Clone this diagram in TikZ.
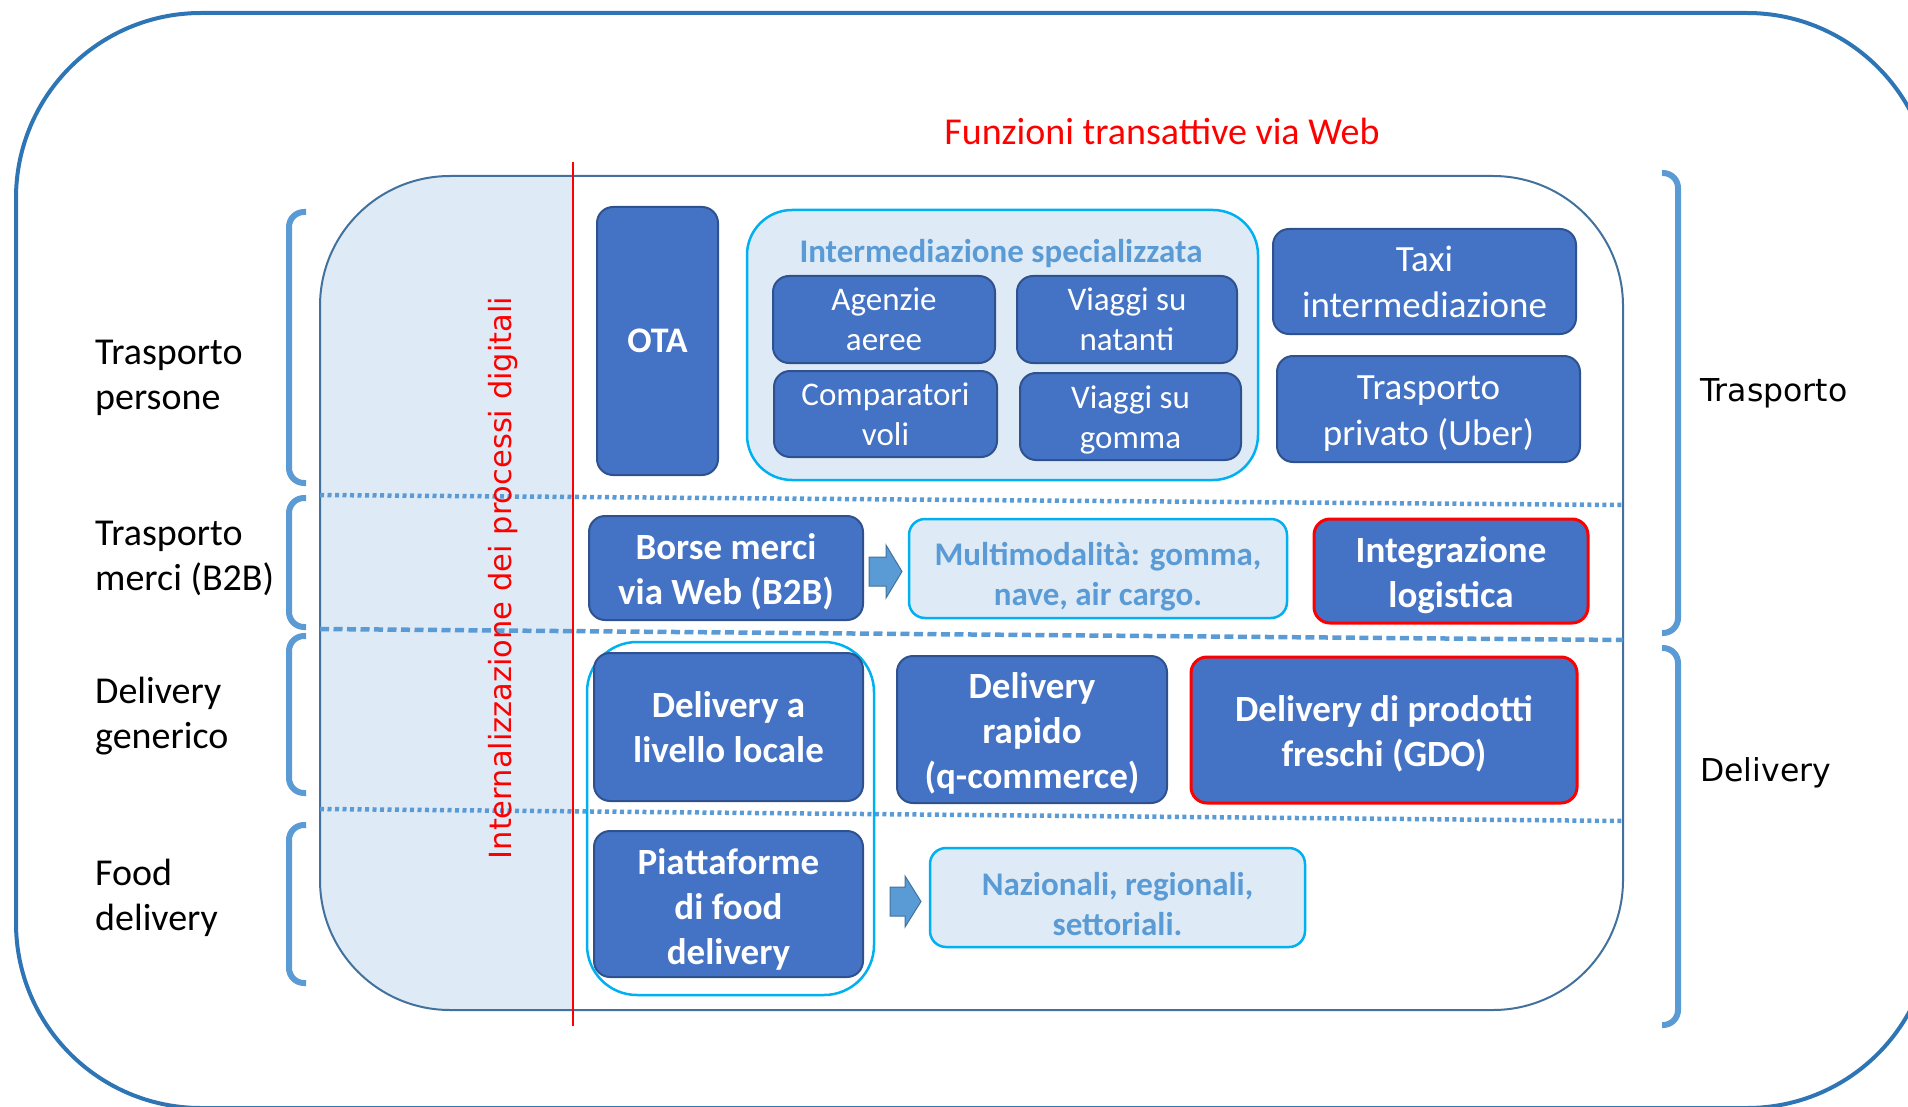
\documentclass[tikz,border=0pt]{standalone}
\usepackage{fontspec}
\setmainfont{Carlito}
\newfontfamily\vfont{DejaVu Sans}
\definecolor{boxblue}{HTML}{4472C4}
\definecolor{boxedge}{HTML}{2F528F}
\definecolor{lightfill}{HTML}{DEEBF7}
\definecolor{cyanedge}{HTML}{00B0F0}
\definecolor{midblue}{HTML}{5B9BD5}
\definecolor{paneledge}{HTML}{41719C}
\definecolor{outeredge}{HTML}{2E75B6}
\definecolor{redline}{HTML}{FF0000}
\tikzset{
  sz/.style 2 args={minimum width=#1pt, minimum height=#2pt},
  darkbox/.style={draw=boxedge, fill=boxblue, line width=2pt, rounded corners=16pt, inner sep=0pt, align=center, text=white},
  redbox/.style={darkbox, draw=redline, line width=3pt},
  lightbox/.style={draw=cyanedge, fill=lightfill, line width=2.5pt, rounded corners=16pt, inner sep=0pt, align=center, text=midblue},
  whitetxt/.style={inner sep=0pt, align=center, text=white},
  bluetxt/.style={inner sep=0pt, align=center, text=midblue},
  bigbold/.style={font=\fontsize{37}{45}\selectfont\bfseries},
  smalltxt/.style={font=\fontsize{33}{40}\selectfont},
  smallbold/.style={font=\fontsize{33}{40}\selectfont\bfseries},
  brk/.style={draw=midblue, line width=6pt, rounded corners=15pt},
  sep/.style={draw=midblue, line width=4.5pt},
  blockarrow/.style={draw=paneledge, fill=midblue, line width=1pt, line join=miter},
  sidelabel/.style={font=\fontsize{38}{45}\selectfont, align=left, anchor=west, inner sep=0pt},
  verdlabel/.style={font=\vfont\fontsize{31.5}{36}\selectfont, anchor=west, inner sep=0pt}
}
\begin{document}
\begin{tikzpicture}[x=1pt,y=-1pt]
\useasboundingbox (0,0) rectangle (1908,1107);
% outer frame
\draw[outeredge, line width=4pt, rounded corners=185pt] (16,13) rectangle (1932,1108);
% inner panel
\begin{scope}
\clip[rounded corners=130pt] (320,176) rectangle (1623,1010);
\fill[lightfill] (320,176) rectangle (573,1010);
\end{scope}
\draw[paneledge, line width=2pt, rounded corners=130pt] (320,176) rectangle (1623,1010);
% separators
\draw[sep, dash pattern=on 4pt off 3.5pt] (320,495) -- (1623,505);
\draw[sep, dash pattern=on 9pt off 4.5pt] (320,629) -- (1623,640);
\draw[sep, dash pattern=on 4pt off 3.5pt] (320,809) -- (1623,821);
% red line
\draw[redline, line width=2.5pt] (573,162) -- (573,1026);
% title
\node[font=\fontsize{38}{45}\selectfont, text=redline] (title) at (1162,131) {Funzioni transattive via Web};
\node[font=\vfont\fontsize{30.5}{36}\selectfont, text=redline, rotate=90] (intern) at (503,578) {Internalizzazione dei processi digitali};
% left brackets
\draw[brk] (306,212) -- (289,212) -- (289,483) -- (306,483);
\draw[brk] (306,498) -- (289,498) -- (289,627) -- (306,627);
\draw[brk] (306,636) -- (289,636) -- (289,793) -- (306,793);
\draw[brk] (306,825) -- (289,825) -- (289,983) -- (306,983);
% right brackets
\draw[brk] (1662,173) -- (1678,173) -- (1678,633) -- (1662,633);
\draw[brk] (1662,648) -- (1678,648) -- (1678,1025) -- (1662,1025);
% left labels
\node[sidelabel] (lab1) at (95,378) {Trasporto\\persone};
\node[sidelabel] (lab2) at (95,558) {Trasporto\\merci (B2B)};
\node[sidelabel] (lab3) at (95,716) {Delivery\\generico};
\node[sidelabel] (lab4) at (95,898) {Food\\delivery};
% right labels
\node[verdlabel] (rlab1) at (1700,393) {Trasporto};
\node[verdlabel] (rlab2) at (1700,773) {Delivery};
% row 1
\node[darkbox, font=\fontsize{36}{44}\selectfont\bfseries, sz={121}{268}] (ota) at (657.5,341) {OTA};
\node[draw=cyanedge, fill=lightfill, line width=2.5pt, rounded corners=45pt, inner sep=0pt, sz={511}{270}] (interm) at (1002.5,345) {};
\node[smallbold, text=midblue] (intermt) at (1001,254) {Intermediazione specializzata};
\node[darkbox, smalltxt, sz={222}{87}] (agenzie) at (884,319.5) {Agenzie\\aeree};
\node[darkbox, smalltxt, sz={220}{87}] (natanti) at (1127,319.5) {Viaggi su\\natanti};
\node[darkbox, smalltxt, sz={223}{86}] (compar) at (885.5,414) {Comparatori\\voli};
\node[darkbox, sz={221}{87}] (gomma) at (1130.5,416.5) {};
\node[whitetxt, smalltxt] (gommat) at ([yshift=-3pt]gomma.center) {Viaggi su\\gomma};
\node[darkbox, font=\fontsize{37}{46}\selectfont, sz={303}{105}] (taxi) at (1424.5,281.5) {Taxi\\intermediazione};
\node[darkbox, sz={303}{106}] (uber) at (1428.5,409) {};
\node[whitetxt, font=\fontsize{37}{46}\selectfont] (ubert) at ([yshift=-5pt]uber.center) {Trasporto\\privato (Uber)};
% row 2
\node[darkbox, sz={274}{104}] (borse) at (726,568) {};
\node[whitetxt, bigbold] (borset) at ([yshift=-3.5pt]borse.center) {Borse merci\\via Web (B2B)};
\node[lightbox, sz={378}{99}] (multi) at (1098,568.5) {};
\node[bluetxt, smallbold] (multit) at ([yshift=-8.5pt]multi.center) {Multimodalità: gomma,\\nave, air cargo.};
\node[redbox, sz={274}{104}] (integr) at (1451,571) {};
\node[whitetxt, bigbold] (integrt) at ([yshift=-4pt]integr.center) {Integrazione\\logistica};
\draw[blockarrow] (869,557) -- (886,557) -- (886,545) -- (902,571.5) -- (886,598) -- (886,586) -- (869,586) -- cycle;
% rows 3-4
\node[draw=cyanedge, line width=2.5pt, rounded corners=50pt, inner sep=0pt, sz={287}{353}] (localgrp) at (730.5,818.5) {};
\node[darkbox, bigbold, sz={269}{148}] (locale) at (728.5,727) {Delivery a\\livello locale};
\node[darkbox, sz={270}{147}] (rapido) at (1032,729.5) {};
\node[whitetxt, bigbold] (rapidot) at ([yshift=-3.5pt]rapido.center) {Delivery\\rapido\\(q-commerce)};
\node[redbox, sz={386}{146}] (gdo) at (1384,730) {};
\node[whitetxt, bigbold] (gdot) at ([yshift=-3.5pt]gdo.center) {Delivery di prodotti\\freschi (GDO)};
\node[darkbox, sz={269}{146}] (food) at (728.5,904) {};
\node[whitetxt, bigbold] (foodt) at ([yshift=-5pt]food.center) {Piattaforme\\di food\\delivery};
\draw[blockarrow] (890,887) -- (905,887) -- (905,876) -- (921,901.5) -- (905,927) -- (905,916) -- (890,916) -- cycle;
\node[lightbox, sz={375}{99}] (naz) at (1117.5,897.5) {};
\node[bluetxt, smallbold] (nazt) at ([yshift=-6.5pt]naz.center) {Nazionali, regionali,\\settoriali.};
\end{tikzpicture}
\end{document}
